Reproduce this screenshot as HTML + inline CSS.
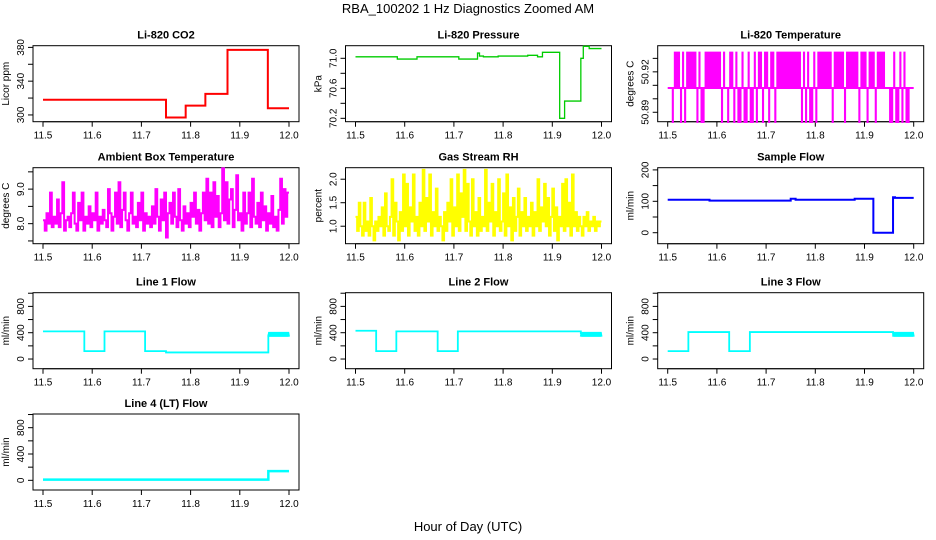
<!DOCTYPE html>
<html><head><meta charset="utf-8"><style>
body{margin:0;background:#fff}
svg{display:block;font-family:"Liberation Sans",sans-serif}
</style></head><body>
<svg id="chart" width="936" height="540" viewBox="0 0 936 540">
<text x="468" y="13" text-anchor="middle" font-size="13">RBA_100202  1 Hz Diagnostics Zoomed AM</text>
<text x="468" y="531" text-anchor="middle" font-size="13">Hour of Day (UTC)</text>
</svg>
<script>
const xTicks=[11.5,11.6,11.7,11.8,11.9,12.0];
const xTickLabels=["11.5","11.6","11.7","11.8","11.9","12.0"];
const co2T=[11.5,11.75,11.79,11.83,11.875,11.957,12.0];
const co2V=[318,297,311,325,377,308,308];
const presT=[11.5,11.585,11.625,11.71,11.748,11.752,11.76,11.79,11.85,11.87,11.88,11.915,11.925,11.958,11.963,11.975,12.0];
const presV=[71.02,70.99,71.02,70.99,71.07,71.03,71.02,71.03,71.04,71.02,71.08,70.2,70.43,71.0,71.16,71.13,71.13];
const tempBase=50.908;
const tempV=[50.908,50.908,50.882,50.935,50.935,50.935,50.882,50.935,50.882,50.935,50.935,50.935,50.935,50.935,50.882,50.935,50.882,50.882,50.935,50.935,50.935,50.935,50.935,50.935,50.935,50.935,50.882,50.935,50.908,50.882,50.935,50.935,50.882,50.935,50.882,50.882,50.935,50.882,50.882,50.935,50.882,50.882,50.935,50.882,50.935,50.935,50.882,50.935,50.935,50.882,50.935,50.935,50.882,50.935,50.935,50.935,50.935,50.935,50.935,50.935,50.935,50.935,50.935,50.935,50.935,50.882,50.935,50.882,50.935,50.882,50.882,50.935,50.882,50.935,50.935,50.935,50.935,50.935,50.935,50.935,50.882,50.935,50.935,50.935,50.935,50.935,50.882,50.935,50.935,50.935,50.935,50.935,50.935,50.882,50.935,50.935,50.935,50.882,50.935,50.935,50.935,50.882,50.935,50.935,50.935,50.935,50.908,50.908,50.882,50.882,50.935,50.882,50.882,50.935,50.882,50.935,50.882,50.882,50.908,50.908];
const ambV=[8.1,7.8,8.3,8.0,8.9,7.9,8.2,8.0,8.7,7.9,8.3,9.2,7.8,8.1,8.2,7.9,8.3,8.9,8.0,7.8,8.6,8.1,8.9,7.8,8.2,8.0,8.5,7.9,8.3,8.1,8.9,7.8,8.2,8.0,8.4,8.1,7.9,9.0,8.3,7.8,8.2,8.9,8.0,9.2,7.9,8.4,8.9,8.1,7.8,8.3,8.9,8.0,8.2,7.9,8.6,8.1,8.9,7.8,8.3,8.0,8.2,7.9,8.5,8.0,9.0,8.2,7.8,8.7,8.1,8.9,7.6,8.3,8.6,8.0,8.9,8.2,7.9,9.0,8.1,7.8,8.5,8.0,8.3,7.9,8.6,8.2,8.9,8.0,8.4,7.8,8.3,8.9,8.1,9.3,8.0,8.9,7.9,9.2,8.2,8.8,7.9,8.3,9.6,8.1,9.2,8.0,8.7,9.0,7.9,8.4,9.4,8.1,8.3,7.8,8.9,8.0,8.3,8.9,7.9,9.3,8.2,8.0,8.6,7.9,8.9,8.1,8.5,7.8,8.3,8.0,8.8,7.9,8.2,7.8,8.4,9.3,8.0,9.0,8.2,8.9];
const rhV=[1.2,0.9,1.5,1.0,0.8,1.5,0.9,1.1,0.8,1.6,1.0,0.7,1.1,0.9,1.2,1.0,1.4,0.8,1.7,1.0,0.9,1.2,2.0,0.8,1.5,1.1,0.7,1.3,0.9,2.1,1.0,1.9,0.8,1.4,1.1,2.1,0.9,1.2,0.8,1.5,1.0,2.2,0.9,1.6,1.1,2.1,0.8,1.3,1.0,1.8,0.9,1.2,1.0,0.7,1.3,0.9,1.5,1.1,2.0,0.8,1.4,1.0,2.1,0.9,1.7,1.2,2.2,0.9,1.9,1.1,0.8,2.0,1.0,1.3,0.8,1.6,0.9,1.2,1.0,2.2,0.9,1.5,1.1,1.9,0.8,1.3,1.0,2.0,0.9,1.1,1.7,0.8,2.1,1.0,1.4,0.7,1.6,0.9,1.2,1.8,0.8,1.3,1.0,1.6,0.9,1.2,1.0,1.5,0.8,1.3,1.0,2.0,0.9,1.4,1.1,1.9,1.0,1.6,0.8,1.2,1.8,0.9,1.4,0.7,1.2,1.0,1.9,0.9,2.0,1.0,1.5,0.8,2.1,1.0,1.3,0.9,1.2,1.0,0.8,1.2,1.0,1.3,0.9,1.1,1.0,1.2,0.9,1.1,1.0,1.1];
const sfT=[11.5,11.585,11.75,11.76,11.88,11.918,11.958,11.962,12.0];
const sfV=[105,102,108,105,108,0,113,111,111];
const l1T=[11.5,11.584,11.625,11.7075,11.75,11.958];
const l1V=[420,120,420,120,100,370];
const l2T=[11.5,11.542,11.583,11.667,11.708,11.958];
const l2V=[430,120,420,120,420,380];
const l3T=[11.5,11.542,11.625,11.667,11.958];
const l3V=[120,410,120,410,370];
const l4T=[11.5,11.958];
const l4V=[10,140];
const bandV=[340,410,340,410,340,410,340,410,340,410,340,410,340,410,340,410,340,410,340,410,340,410,340,410,340];

const NS='http://www.w3.org/2000/svg';
const svg=document.getElementById('chart');
function mk(tag,attrs,parent){const e=document.createElementNS(NS,tag);for(const k in attrs)e.setAttribute(k,attrs[k]);(parent||svg).appendChild(e);return e;}

const colL=[33,345.5,657.7], rowT=[45.7,167.7,292.7,414];
const W=266,H=76;
function panel(col,row,title,ylab,ylim,yticks,ylabels,name){
  const L=colL[col],T=rowT[row];
  const g=mk('g',{});
  
  
  const x=v=>L+10+(v-11.5)/0.5*(W-20);
  const y=v=>T+H-(v-ylim[0])/(ylim[1]-ylim[0])*H;
  const box=mk('rect',{x:L,y:T,width:W,height:H,fill:'none',stroke:'#000','stroke-width':1},g);
  
  
  const t=mk('text',{x:L+W/2,y:T-7,'text-anchor':'middle','font-size':11,'font-weight':'bold'},g);
  t.textContent=title;
  
  
  xTicks.forEach((v,i)=>{
    mk('line',{x1:x(v),x2:x(v),y1:T+H,y2:T+H+5,stroke:'#000'},g);
    const tl=mk('text',{x:x(v),y:T+H+17,'text-anchor':'middle','font-size':10},g);
    tl.textContent=xTickLabels[i];
    
    
  });
  mk('line',{x1:x(11.5),x2:x(12),y1:T+H,y2:T+H,stroke:'#000'},g);
  yticks.forEach((v,i)=>{
    mk('line',{x1:L-5,x2:L,y1:y(v),y2:y(v),stroke:'#000'},g);
    if(ylabels[i]){
      const tl=mk('text',{x:0,y:0,'text-anchor':'middle','font-size':10,transform:`translate(${L-9},${y(v)}) rotate(-90)`},g);
      tl.textContent=ylabels[i];
      
      
    }
  });
  const yl=mk('text',{x:0,y:0,'text-anchor':'middle','font-size':10,transform:`translate(${L-24},${T+H/2}) rotate(-90)`},g);
  yl.textContent=ylab;
  
  
  return {x,y,g};
}
function stepPath(p,T,V,end){
  let d='';
  for(let i=0;i<T.length;i++){
    const t1=(i+1<T.length)?T[i+1]:end;
    d+=(i?'L':'M')+p.x(T[i])+','+p.y(V[i])+'L'+p.x(t1)+','+p.y(V[i]);
  }
  return d;
}
function even(p,vals,t0,t1){
  let d='';
  vals.forEach((v,i)=>{const t=t0+(t1-t0)*i/(vals.length-1);d+=(i?'L':'M')+p.x(t)+','+p.y(v);});
  return d;
}
function evenStep(p,vals,t0,t1){
  let d='';const n=vals.length;
  vals.forEach((v,i)=>{const ta=t0+(t1-t0)*i/n,tb=t0+(t1-t0)*(i+1)/n;d+=(i?'L':'M')+p.x(ta)+','+p.y(v)+'L'+p.x(tb)+','+p.y(v);});
  return d;
}
function spikes(p,vals,base,t0,t1){
  let d='M'+p.x(t0)+','+p.y(base)+'L'+p.x(t1)+','+p.y(base);
  const n=vals.length;
  vals.forEach((v,i)=>{const ta=p.x(t0+(t1-t0)*(i+0.5)/n);d+='M'+ta+','+p.y(base)+'L'+ta+','+p.y(v);});
  return d;
}
function series(p,d,color,w,name){
  const e=mk('path',{d:d,fill:'none',stroke:color,'stroke-width':w},p.g);
  
  
}
let p;
p=panel(0,0,'Li-820 CO2','Licor ppm',[292,382],[300,320,340,360,380],['300','','340','','380'],'co2');
series(p,stepPath(p,co2T,co2V,12.0),'#f00',2,'co2-line');
p=panel(1,0,'Li-820 Pressure','kPa',[70.155,71.168],[70.2,70.4,70.6,70.8,71.0],['70.2','','70.6','','71.0'],'pressure');
series(p,stepPath(p,presT,presV,12.0),'#0c0',1.3,'pressure-line');
p=panel(2,0,'Li-820 Temperature','degrees C',[50.883,50.9394],[50.89,50.90,50.91,50.92,50.93],['50.89','','','50.92',''],'li820-temp');
series(p,spikes(p,tempV,tempBase,11.5,12.0),'#f0f',2.1,'li820-temp-line');
p=panel(0,1,'Ambient Box Temperature','degrees C',[7.42,9.62],[7.5,8.0,8.5,9.0,9.5],['','8.0','','9.0',''],'ambient-temp');
series(p,evenStep(p,ambV,11.5,12.0),'#f0f',2,'ambient-temp-line');
p=panel(1,1,'Gas Stream RH','percent',[0.628,2.245],[1.0,1.5,2.0],['1.0','1.5','2.0'],'rh');
series(p,evenStep(p,rhV,11.5,12.0),'#ff0',2,'rh-line');
p=panel(2,1,'Sample Flow','ml/min',[-35,207],[0,50,100,150,200],['0','','100','','200'],'sample-flow');
series(p,stepPath(p,sfT,sfV,12.0),'#00f',2,'sample-flow-line');
const fl=[-147,1008], ft=[0,200,400,600,800,1000], fll=['0','','400','','800',''];
[[0,2,'Line 1 Flow',l1T,l1V,'line1'],[1,2,'Line 2 Flow',l2T,l2V,'line2'],[2,2,'Line 3 Flow',l3T,l3V,'line3']].forEach(a=>{
  const q=panel(a[0],a[1],a[2],'ml/min',fl,ft,fll,a[5]+'-flow');
  series(q,stepPath(q,a[3],a[4],11.958),'#0ff',1.8,a[5]+'-flow-line');
  series(q,even(q,bandV,11.958,12.0),'#0ff',2,a[5]+'-flow-band');
});
p=panel(0,3,'Line 4 (LT) Flow','ml/min',fl,ft,fll,'line4-flow');
series(p,stepPath(p,l4T,l4V,12.0),'#0ff',2.5,'line4-flow-line');
</script>
</body></html>
